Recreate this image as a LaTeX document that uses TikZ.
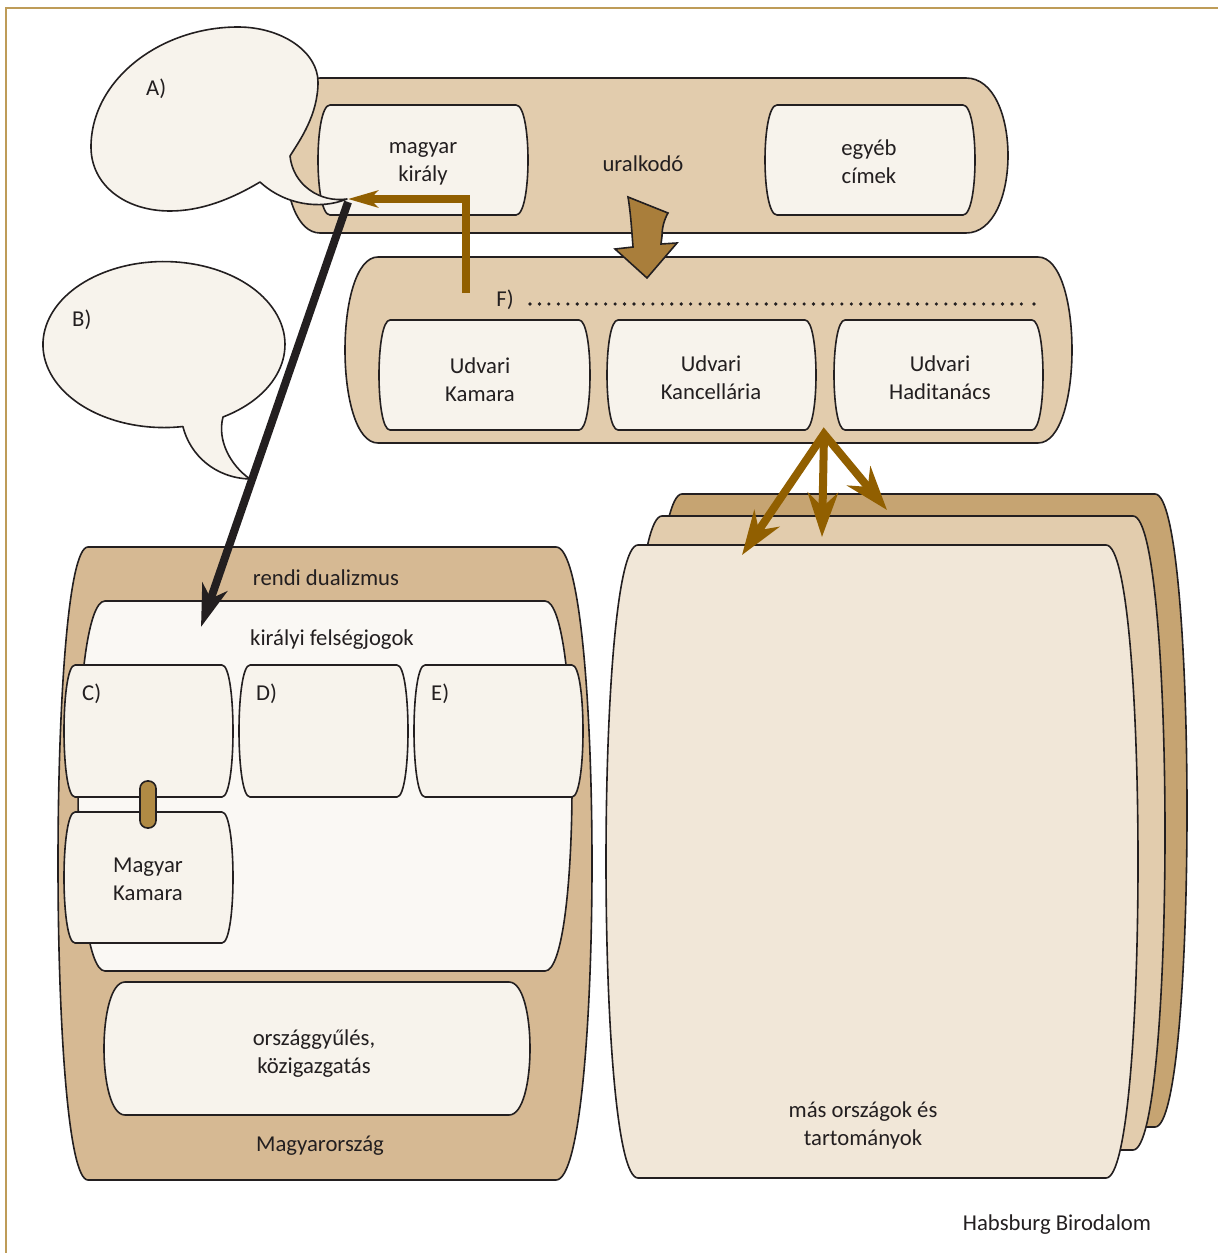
\documentclass[tikz,border=0pt]{standalone}
\usepackage{fontspec}
\setmainfont{Carlito}
\usetikzlibrary{arrows.meta}
\definecolor{dk}{HTML}{231F20}
\definecolor{tanL}{HTML}{E2CCAD}
\definecolor{tanM}{HTML}{D6B993}
\definecolor{tanD}{HTML}{C6A472}
\definecolor{creamA}{HTML}{F7F3EC}
\definecolor{creamW}{HTML}{FAF8F4}
\definecolor{pageF}{HTML}{F1E7D8}
\definecolor{brn}{HTML}{915F00}
\definecolor{blockc}{HTML}{A97E3B}
\definecolor{pillc}{HTML}{B08A44}
\definecolor{framec}{HTML}{BE9C58}
\newcommand{\tapeshape}[7]{%
  \path[#1] ({#2+#6},#3) -- ({#4-#7},#3)
    .. controls ({#4+#7/3},#3) and ({#4+#7/3},#5) .. ({#4-#7},#5)
    -- ({#2+#6},#5)
    .. controls ({#2-#6/3},#5) and ({#2-#6/3},#3) .. cycle;}
\begin{document}
\begin{tikzpicture}[x=1pt,y=-1pt,
  shp/.style={draw=dk, line width=1.6pt, line join=round},
  txt/.style={font=\fontsize{22.7}{28}\selectfont, text=dk, inner sep=0pt, align=center},
  lbl/.style={font=\fontsize{22.7}{28}\selectfont, text=dk, inner sep=0pt, anchor=base west},
  stxt/.style={font=\fontsize{22.7}{28}\selectfont, text=dk, inner sep=0pt, anchor=base},
  brnline/.style={draw=brn, line width=8pt, line join=miter},
  bigtip/.style={-{Stealth[length=44pt, width=30pt, inset=14pt]}},
  blkline/.style={draw=dk, line width=8pt, -{Stealth[length=42pt, width=26pt, inset=12pt]}},
  bubble/.style={shp, fill=creamA}]
\useasboundingbox (0,0) rectangle (1218,1253);

% frame
\draw[framec, line width=2pt] (6,1260) -- (6,8) -- (1225,8);

% ruler container
\tapeshape{shp, fill=tanL}{285}{78}{1008}{233}{35}{42}
\tapeshape{shp, fill=creamA}{318}{105}{528}{215}{12}{12}
\tapeshape{shp, fill=creamA}{765}{105}{975}{215}{12}{12}
\node[txt] (magyar) at (423,164) {magyar\\király};
\node[stxt] (uralkodo) at (643,171) {uralkodó};
\node[txt] (egyeb) at (869,162) {egyéb\\címek};

% central offices container
\tapeshape{shp, fill=tanL}{345}{257}{1072}{443}{33}{34}
\tapeshape{shp, fill=creamA}{379}{320}{590}{430}{11}{11}
\tapeshape{shp, fill=creamA}{607}{320}{816}{430}{11}{11}
\tapeshape{shp, fill=creamA}{834}{320}{1043}{430}{11}{11}
\node[stxt] (F) at (505,306) {F)};
\coordinate (dotA) at (530,304);
\coordinate (dotB) at (1026,304);
\coordinate (dotC) at (1034,304);
\draw[dk, line width=3.6pt, line cap=round, dash pattern=on 0pt off 9.45pt] (dotA) -- (dotB);
\fill[dk] (dotC) circle (1.8);
\node[txt] (kamara) at (480,380) {Udvari\\Kamara};
\node[txt] (kancellaria) at (711,378) {Udvari\\Kancellária};
\node[txt] (haditanacs) at (940,378) {Udvari\\Haditanács};

% block arrow
\path[shp, fill=blockc, line join=miter] (628,197) -- (668,213)
  .. controls (664,220) and (662,228) .. (662,236) -- (661,244) -- (677,243)
  -- (647,278) -- (615,249) -- (633,247)
  .. controls (632,235) and (631,215) .. (628,197) -- cycle;

% bubble B
\path[bubble] (223,417) arc[start angle=60.8, end angle=-279, x radius=121, y radius=83]
  .. controls (190,455) and (215,478) .. (250,479)
  .. controls (230,465) and (217,440) .. (223,417) -- cycle;
\node[lbl] (B) at (72,326) {B)};

% Hungary
\tapeshape{shp, fill=tanM}{58}{547}{592}{1180}{30}{36}
\tapeshape{shp, fill=creamW}{78}{601}{572}{971}{27}{27}
\tapeshape{shp, fill=creamA}{64}{665}{233}{797}{11}{11}
\tapeshape{shp, fill=creamA}{239}{665}{408}{797}{11}{11}
\tapeshape{shp, fill=creamA}{414}{665}{583}{797}{11}{11}
\tapeshape{shp, fill=creamA}{64}{812}{233}{943}{11}{11}
\draw[shp, fill=pillc, rounded corners=7.5] (140,781) rectangle (156,828);
\tapeshape{shp, fill=creamA}{104}{982}{530}{1115}{21}{21}
\node[stxt] (rendi) at (326,585) {rendi dualizmus};
\node[stxt] (felseg) at (332,645) {királyi felségjogok};
\node[lbl] (C) at (82,700) {C)};
\node[lbl] (D) at (256,700) {D)};
\node[lbl] (E) at (431,700) {E)};
\node[txt] (mkamara) at (148,879) {Magyar\\Kamara};
\node[txt] (orszgy) at (314,1054) {országgyűlés,\\közigazgatás};
\node[stxt] (mo) at (320,1151) {Magyarország};

% other countries (stacked pages)
\tapeshape{shp, fill=tanD}{650}{494}{1187}{1127}{32}{32}
\tapeshape{shp, fill=tanL}{630}{516}{1165}{1150}{32}{32}
\tapeshape{shp, fill=pageF}{606}{545}{1138}{1178}{32}{32}
\node[txt] (mas) at (863,1125) {más országok és\\tartományok};

\node[stxt] (habsburg) at (1057,1230) {Habsburg Birodalom};

% three arrows
\coordinate (aO) at (824,434);
\coordinate (aL) at (742,555);
\coordinate (aM) at (822,537);
\coordinate (aR) at (887,510);
\draw[brnline, {Stealth[length=44pt, width=30pt, inset=14pt]}-{Stealth[length=44pt, width=30pt, inset=14pt]}] (aL) -- (aO) -- (aR);
\draw[brnline, bigtip] (aO) -- (aM);

% bubble A
\path[bubble] (290,156) .. controls (293,185) and (320,203) .. (347,199)
  .. controls (320,210) and (285,205) .. (260,182)
  .. controls (230,200) and (200,211) .. (170,211)
  .. controls (125,211) and (91,185) .. (91,147)
  .. controls (91,80) and (160,27) .. (238,27)
  .. controls (282,27) and (318,52) .. (318,82)
  .. controls (318,115) and (300,140) .. (290,156) -- cycle;
\node[lbl] (A) at (146,95) {A)};

% brown L arrow
\coordinate (lA) at (466,293);
\coordinate (lB) at (348,199);
\draw[draw=brn, line width=8pt, line join=miter, -{Stealth[length=30pt, width=17pt, inset=8pt]}] (lA) |- (lB);

% black arrow
\coordinate (bA) at (348,202);
\coordinate (bB) at (201,627);
\draw[blkline] (bA) -- (bB);
\end{tikzpicture}
\end{document}
